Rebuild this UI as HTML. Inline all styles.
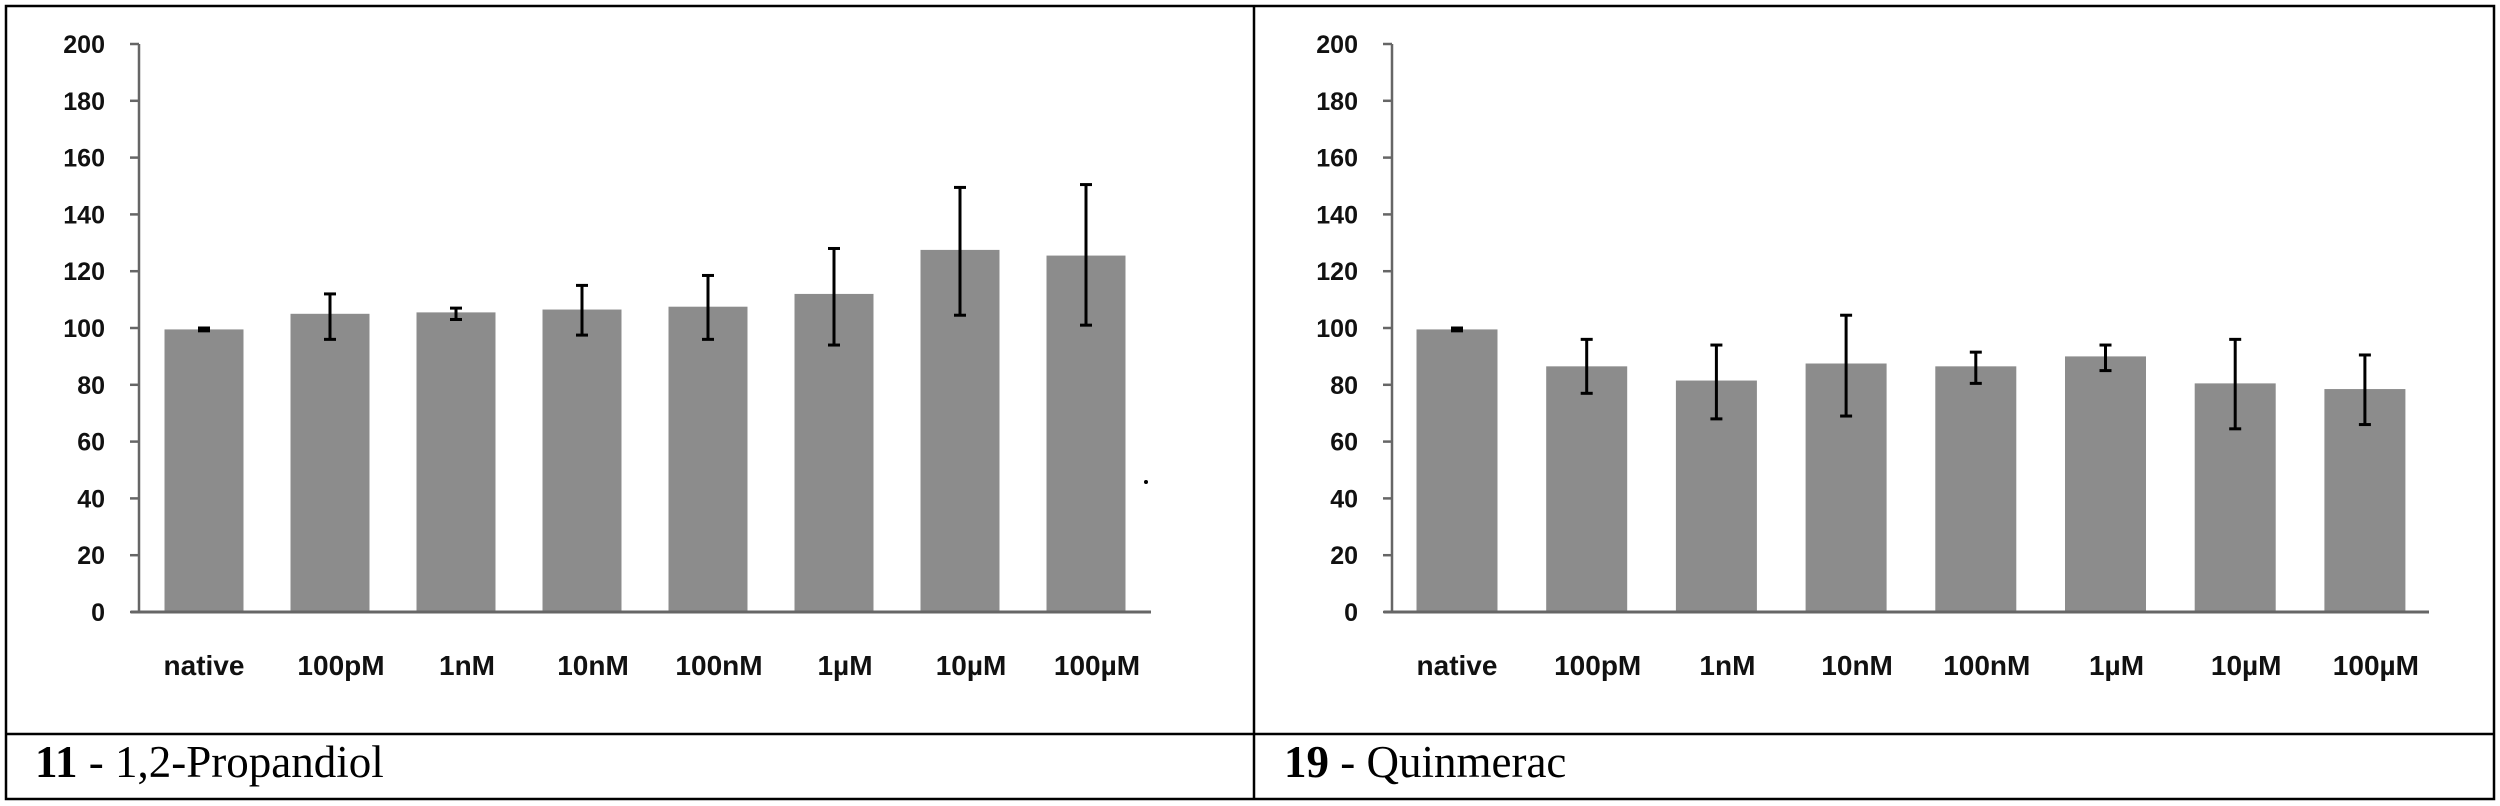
<!DOCTYPE html>
<html><head><meta charset="utf-8"><style>
html,body{margin:0;padding:0;background:#fff;}
svg{display:block;}
.tick{font-family:"Liberation Sans",Arial,sans-serif;font-weight:bold;font-size:25px;fill:#111;}
.xl{font-family:"Liberation Sans",Arial,sans-serif;font-weight:bold;font-size:28px;fill:#111;}
.cap{font-family:"Liberation Serif","Times New Roman",serif;font-size:45px;fill:#000;}
</style></head><body>
<svg id="svg" width="2500" height="806" viewBox="0 0 2500 806">
<rect x="6" y="6" width="2488" height="793" fill="none" stroke="#000" stroke-width="2.5"/>
<line x1="1254" y1="6" x2="1254" y2="799" stroke="#000" stroke-width="2.5"/>
<line x1="6" y1="734" x2="2494" y2="734" stroke="#000" stroke-width="2.5"/>
<text class="cap" x="35" y="777"><tspan font-weight="bold">11</tspan> - 1,2-Propandiol</text>
<text class="cap" x="1284" y="777"><tspan font-weight="bold">19</tspan> - Quinmerac</text>
<circle cx="1146" cy="482" r="2" fill="#000"/>
</svg>
<script>
const categories = ["native","100pM","1nM","10nM","100nM","1µM","10µM","100µM"];
const yTicks = [0,20,40,60,80,100,120,140,160,180,200];
const leftValues = [99.5,105,105.5,106.5,107.5,112,127.5,125.5];
const leftErrUpper = [100,112,107,115,118.5,128,149.5,150.5];
const leftErrLower = [99,96,103,97.5,96,94,104.5,101];
const rightValues = [99.5,86.5,81.5,87.5,86.5,90,80.5,78.5];
const rightErrUpper = [100,96,94,104.5,91.5,94,96,90.5];
const rightErrLower = [99,77,68,69,80.5,85,64.5,66];

const NS = "http://www.w3.org/2000/svg";
const svg = document.getElementById('svg');
function mk(tag, attrs, parent){
  const e = document.createElementNS(NS, tag);
  for (const k in attrs) e.setAttribute(k, attrs[k]);
  (parent||svg).appendChild(e);
  return e;
}
function drawChart(prefix, axisX, axisEnd, firstCenter, spacing, barW, values, up, lo){
  const y0 = 612, y200 = 44;
  const yScale = v => y0 - (v/200)*(y0-y200);
  const xScale = i => firstCenter + i*spacing;
  const g = mk('g', {});
  
  
  values.forEach((v,i)=>{
    const r = mk('rect', {x: xScale(i)-barW/2, y: yScale(v), width: barW, height: y0 - yScale(v), fill: '#8c8c8c'}, g);
    
    
  });
  values.forEach((v,i)=>{
    const cx = xScale(i);
    const eg = mk('g', {stroke:'#000', 'stroke-width':3}, g);
    
    
    mk('line', {x1:cx, x2:cx, y1:yScale(up[i]), y2:yScale(lo[i])}, eg);
    mk('line', {x1:cx-6, x2:cx+6, y1:yScale(up[i]), y2:yScale(up[i])}, eg);
    mk('line', {x1:cx-6, x2:cx+6, y1:yScale(lo[i]), y2:yScale(lo[i])}, eg);
  });
  const ya = mk('line', {x1:axisX, x2:axisX, y1:y200, y2:y0, stroke:'#666', 'stroke-width':2.5}, g);
  
  
  const xa = mk('line', {x1:axisX-8, x2:axisEnd, y1:y0, y2:y0, stroke:'#666', 'stroke-width':3}, g);
  
  
  yTicks.forEach(t=>{
    const y = yScale(t);
    mk('line', {x1:axisX-9, x2:axisX, y1:y, y2:y, stroke:'#666', 'stroke-width':2.5}, g);
    const tx = mk('text', {x: axisX-34, y: y+9, 'text-anchor':'end', class:'tick'}, g);
    tx.textContent = t;
    
    
  });
  categories.forEach((c,i)=>{
    const tx = mk('text', {x: xScale(i)+ (i===0?0:11), y: 675, 'text-anchor':'middle', class:'xl'}, g);
    tx.textContent = c;
    
    
  });
}
drawChart('left', 139, 1151, 204, 126, 79, leftValues, leftErrUpper, leftErrLower);
drawChart('right', 1392, 2429, 1457, 129.7, 81, rightValues, rightErrUpper, rightErrLower);
</script>
</body></html>
